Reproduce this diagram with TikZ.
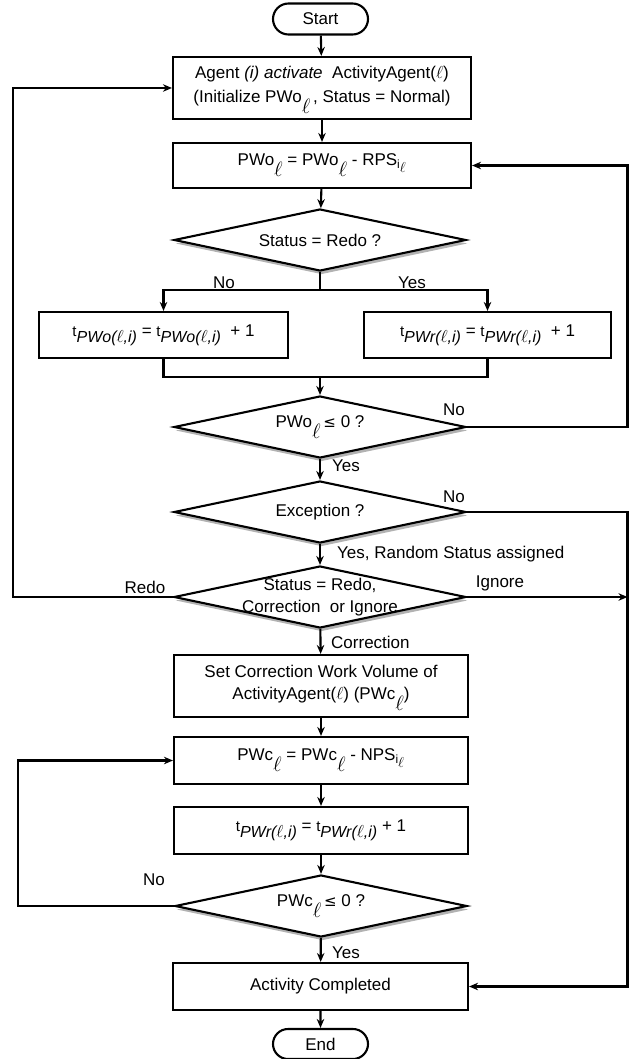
\documentclass[tikz,border=0pt]{standalone}
\usepackage{fontspec}
\setmainfont{Liberation Sans}
\usetikzlibrary{shapes.geometric,shapes.misc,arrows.meta,shadows}
\newcommand{\fs}{\fontsize{17}{22}\selectfont}
\newcommand{\lsub}{\raisebox{-11pt}{\fontsize{21}{21}\selectfont$\ell$}}
\newcommand{\lsubs}{\raisebox{-4pt}{\fontsize{15}{15}\selectfont$\ell$}}
\newcommand{\myleq}{{\fontspec{DejaVu Sans}\fontsize{15}{16}\selectfont ≤}}
\newcommand{\tsub}[1]{{\fontsize{15}{15}\selectfont t}\raisebox{-6pt}{\fontsize{16}{16}\selectfont\itshape #1}}
\begin{document}
\begin{tikzpicture}[x=1pt,y=-1pt,
  box/.style={draw, line width=2.1pt, fill=white, inner sep=0pt, align=center, font=\fs},
  dia/.style={draw, diamond, line width=2.1pt, fill=white, inner sep=0pt, font=\fs,
    minimum width=292pt, minimum height=62pt,
    drop shadow={shadow xshift=1.5pt, shadow yshift=-3.5pt, fill=black, opacity=0.3}},
  term/.style={draw, rounded rectangle, line width=2.1pt, fill=white, inner sep=0pt, font=\fs,
    minimum width=95pt, minimum height=31pt},
  lab/.style={inner sep=0pt, font=\fs},
  arr/.style={-{Stealth[length=9pt,width=7.5pt]}, line width=2.1pt},
  ln/.style={line width=2.1pt}]
\useasboundingbox (0,0) rectangle (630,1059);
% nodes
\node[term] (start) at (320.5,19) {Start};
\node[box, minimum width=298pt, minimum height=62pt] (agent) at (322,88)
  {\begin{tabular}{@{}c@{}}Agent \textit{(i) activate}\ \ ActivityAgent($\ell$)\\[2pt](Initialize PWo\lsub\,, Status = Normal)\end{tabular}};
\node[box, minimum width=298pt, minimum height=45pt] (pwo) at (322,165.5)
  {\makebox[0pt]{PWo\lsub\ = PWo\lsub\ - RPS\textsubscript{i\lsubs}}};
\node[dia] (d1) at (320,240) {\makebox[0pt]{Status = Redo ?}};
\node[box, minimum width=249pt, minimum height=46pt] (b1) at (163.5,335)
  {\makebox[0pt]{\tsub{PWo($\ell$,i)} = \tsub{PWo($\ell$,i)}\ \ + 1}};
\node[box, minimum width=247pt, minimum height=46pt] (b2) at (487.5,335)
  {\makebox[0pt]{\tsub{PWr($\ell$,i)}\ = \tsub{PWr($\ell$,i)}\ \ + 1}};
\node[dia] (d2) at (320,427) {\makebox[0pt]{PWo\lsub\,\myleq\ 0 ?}};
\node[dia] (d3) at (320,512) {\makebox[0pt]{Exception ?}};
\node[dia] (d4) at (320,597)
  {\makebox[0pt]{\begin{tabular}{@{}c@{}}Status = Redo,\\Correction\ \ or Ignore\end{tabular}}};
\node[box, minimum width=294pt, minimum height=62pt] (setc) at (321,686)
  {\begin{tabular}{@{}c@{}}Set Correction Work Volume of\\ActivityAgent($\ell$) (PWc\lsub)\end{tabular}};
\node[box, minimum width=294pt, minimum height=47pt] (pwc) at (321,760.5)
  {\makebox[0pt]{PWc\lsub\ = PWc\lsub\ - NPS\textsubscript{i\lsubs}}};
\node[box, minimum width=294pt, minimum height=47pt] (tpw) at (321,830.5)
  {\makebox[0pt]{\tsub{PWr($\ell$,i)} = \tsub{PWr($\ell$,i)} + 1}};
\node[dia] (d5) at (321,906) {\makebox[0pt]{PWc\lsub\,\myleq\ 0 ?}};
\node[box, minimum width=295pt, minimum height=47pt] (act) at (320.5,986.5) {Activity Completed};
\node[term, minimum height=30pt] (end) at (320.5,1044) {End};
% labels
\node[lab] (lno1) at (224,283) {No};
\node[lab] (lyes1) at (412,283) {Yes};
\node[lab] (lno2) at (454,410) {No};
\node[lab, anchor=west] (lyes2) at (332,466) {Yes};
\node[lab] (lno3) at (454,497) {No};
\node[lab, anchor=west] (lyes3) at (337,554) {Yes, Random Status assigned};
\node[lab] (lredo) at (145,587) {Redo};
\node[lab] (lign) at (500,583) {Ignore};
\node[lab, anchor=west] (lcorr) at (331,642) {Correction};
\node[lab] (lno4) at (154,880) {No};
\node[lab, anchor=west] (lyes4) at (332,953) {Yes};
% coordinates
\coordinate (br) at (320,290);
\coordinate (mg) at (320,377);
\coordinate (R) at (627.5,0);
\coordinate (L) at (13,0);
\coordinate (L2) at (18,0);
% connectors
\draw[arr] (start) -- (agent);
\draw[arr] (agent) -- (pwo);
\draw[arr] (pwo) -- (d1);
\draw[ln] (d1.south) -- (br);
\draw[arr] (br) -| (b1);
\draw[arr] (br) -| (b2);
\draw[ln] (b1) |- (mg);
\draw[ln] (b2) |- (mg);
\draw[arr] (mg) -- (d2);
\draw[arr] (d2.east) -| (R |- pwo.east) -- (pwo.east);
\draw[arr] (d2) -- (d3);
\draw[arr] (d3.east) -| (R |- act.east) -- (act.east);
\draw[arr] (d3) -- (d4);
\draw[arr] (d4.west) -| (L |- agent.west) -- (agent.west);
\draw[arr] (d4.east) -- (R |- d4.east);
\draw[arr] (d4) -- (setc);
\draw[arr] (setc) -- (pwc);
\draw[arr] (pwc) -- (tpw);
\draw[arr] (tpw) -- (d5);
\draw[arr] (d5.west) -| (L2 |- pwc.west) -- (pwc.west);
\draw[arr] (d5) -- (act);
\draw[arr] (act) -- (end);
\end{tikzpicture}
\end{document}
